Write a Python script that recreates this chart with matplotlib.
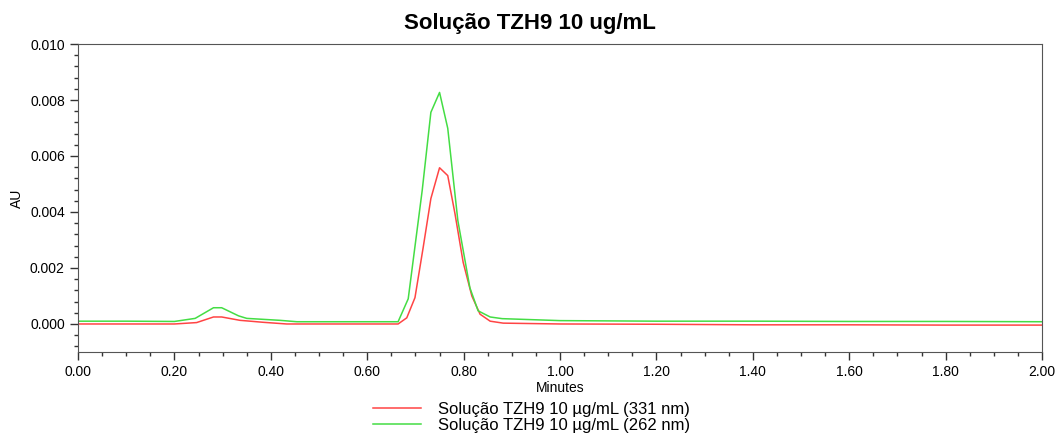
import matplotlib.pyplot as plt
from matplotlib.ticker import MultipleLocator, FormatStrFormatter

plt.rcParams['font.family'] = ['Liberation Sans', 'DejaVu Sans']

t_331 = [0.00, 0.10, 0.20, 0.246, 0.281, 0.298, 0.336, 0.357, 0.384, 0.433,
         0.60, 0.664, 0.682, 0.699, 0.716, 0.732, 0.750, 0.767, 0.782, 0.799,
         0.817, 0.834, 0.855, 0.882, 1.00, 1.20, 1.40, 1.60, 1.80, 2.00]
au_331 = [0.0, 0.0, 0.0, 0.00005, 0.00025, 0.00025, 0.00013, 0.0001, 0.00006, 0.0,
          0.0, 0.0, 0.00022, 0.00094, 0.00273, 0.00448, 0.00558, 0.0053, 0.00394, 0.0022,
          0.001, 0.00035, 0.0001, 0.00003, 0.0, -0.00001, -0.00003, -0.00003, -0.00004, -0.00004]

t_262 = [0.00, 0.10, 0.20, 0.243, 0.281, 0.298, 0.333, 0.35, 0.419, 0.454,
         0.60, 0.664, 0.685, 0.714, 0.732, 0.750, 0.767, 0.788, 0.813, 0.830,
         0.855, 0.88, 1.00, 1.20, 1.40, 1.60, 1.80, 2.00]
au_262 = [0.0001, 0.0001, 0.00009, 0.0002, 0.00058, 0.00058, 0.00029, 0.0002, 0.00013, 0.00008,
          0.00008, 0.00008, 0.0009, 0.00477, 0.00756, 0.00827, 0.00699, 0.00369, 0.00129, 0.00047,
          0.00025, 0.00019, 0.00012, 0.0001, 0.0001, 0.00009, 0.00009, 0.00008]

labels = ['Solução TZH9 10 µg/mL (331 nm)', 'Solução TZH9 10 µg/mL (262 nm)']

fig = plt.figure(figsize=(10.59, 4.34), dpi=100)
ax = fig.add_axes([0.0737, 0.189, 0.9103, 0.7096])

ax.plot(t_331, au_331, color='#ff4444', lw=1.1, label=labels[0])
ax.plot(t_262, au_262, color='#44dd44', lw=1.1, label=labels[1])

ax.set_xlim(0, 2.0)
ax.set_ylim(-0.001, 0.010)
ax.xaxis.set_major_locator(MultipleLocator(0.2))
ax.xaxis.set_minor_locator(MultipleLocator(0.05))
ax.yaxis.set_major_locator(MultipleLocator(0.002))
ax.yaxis.set_minor_locator(MultipleLocator(0.0004))
ax.xaxis.set_major_formatter(FormatStrFormatter('%.2f'))
ax.yaxis.set_major_formatter(FormatStrFormatter('%.3f'))
ax.tick_params(which='major', length=6, width=1, labelsize=10, color='#333333')
ax.tick_params(which='minor', length=3, width=1, color='#333333')
for s in ax.spines.values():
    s.set_color('#555555')

ax.set_xlabel('Minutes', fontsize=10, labelpad=1)
ax.set_ylabel('AU', fontsize=10, labelpad=4)
fig.text(0.5, 0.945, 'Solução TZH9 10 ug/mL', fontsize=16, fontweight='bold',
         ha='center', va='center')

fig.legend(loc='upper center', bbox_to_anchor=(0.502, 0.093), frameon=False,
           fontsize=12, handlelength=2.9, handletextpad=1.0, labelspacing=0.05,
           borderpad=0)

fig.savefig('out.png', dpi=100)
